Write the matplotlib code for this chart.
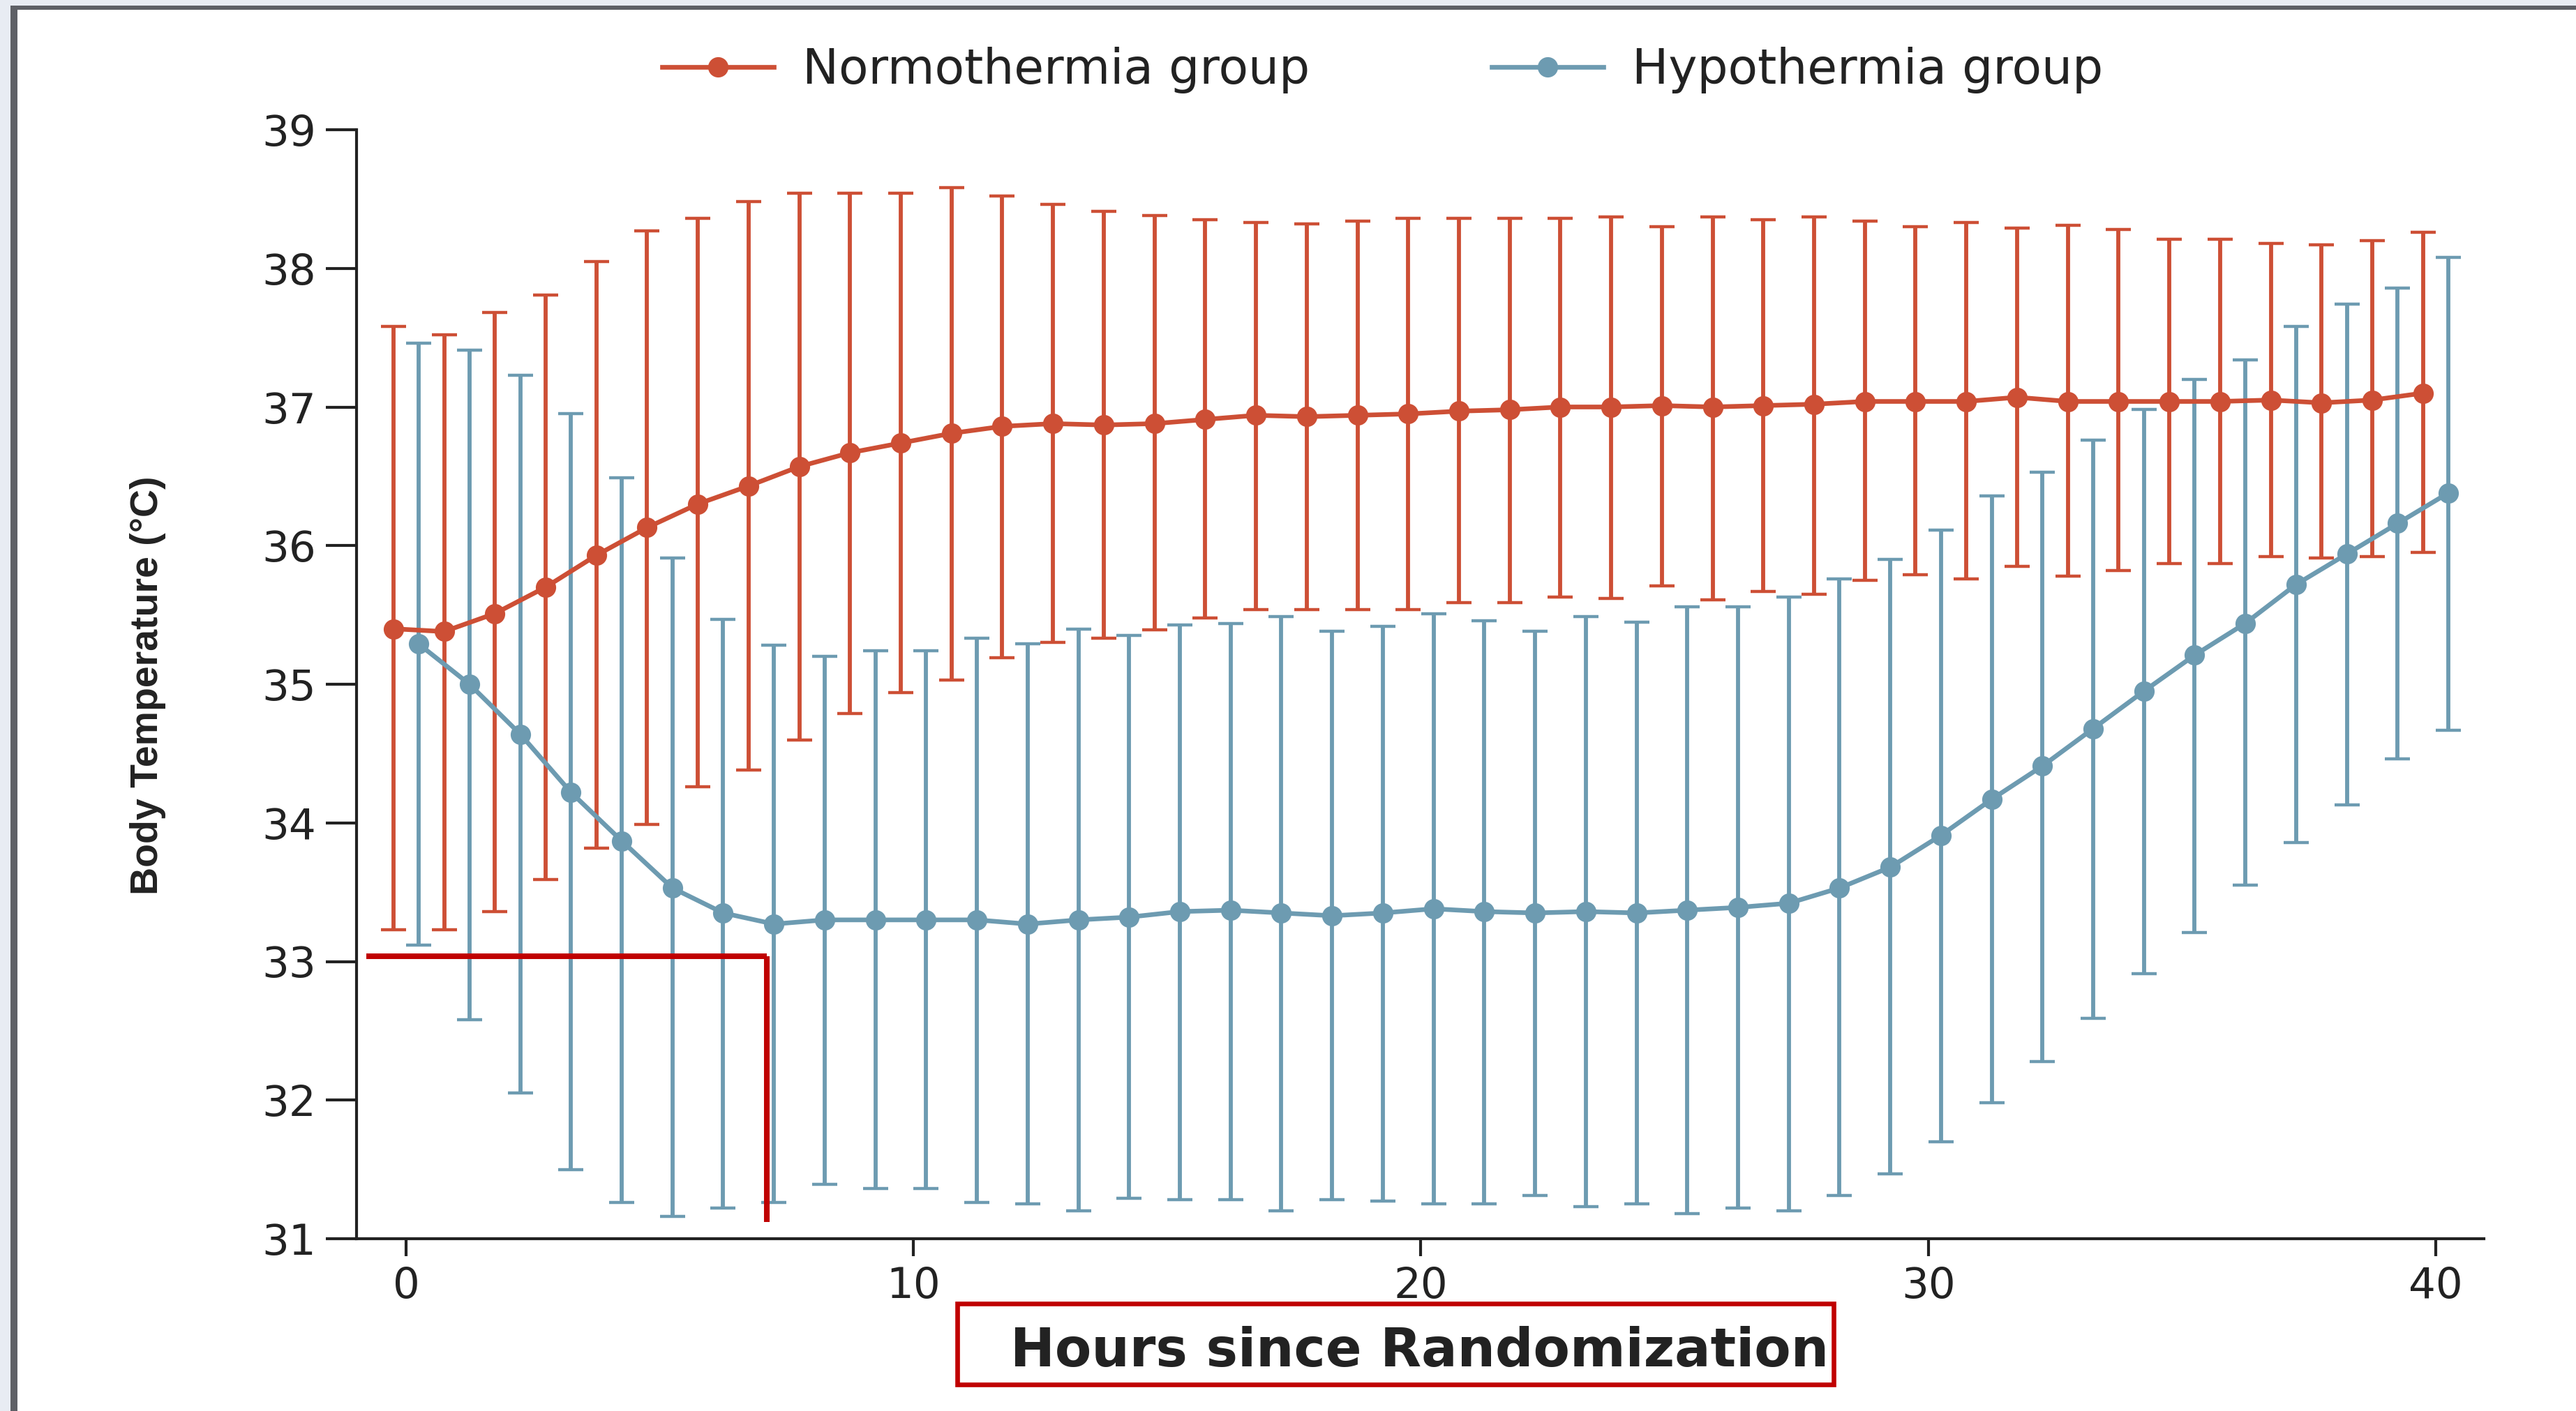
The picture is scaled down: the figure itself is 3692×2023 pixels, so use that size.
import matplotlib
matplotlib.use("Agg")
import matplotlib.pyplot as plt
from matplotlib.patches import Rectangle
import numpy as np

# ---------------- data ----------------
hours = list(range(41))

normo_mean = [35.40, 35.38, 35.51, 35.70, 35.93, 36.13, 36.30, 36.43, 36.57, 36.67,
              36.74, 36.81, 36.86, 36.88, 36.87, 36.88, 36.91, 36.94, 36.93, 36.94,
              36.95, 36.97, 36.98, 37.00, 37.00, 37.01, 37.00, 37.01, 37.02, 37.04,
              37.04, 37.04, 37.07, 37.04, 37.04, 37.04, 37.04, 37.05, 37.03, 37.05,
              37.10]
normo_upper = [37.58, 37.52, 37.68, 37.81, 38.05, 38.27, 38.36, 38.48, 38.54, 38.54,
               38.54, 38.58, 38.52, 38.46, 38.41, 38.38, 38.35, 38.33, 38.32, 38.34,
               38.36, 38.36, 38.36, 38.36, 38.37, 38.30, 38.37, 38.35, 38.37, 38.34,
               38.30, 38.33, 38.29, 38.31, 38.28, 38.21, 38.21, 38.18, 38.17, 38.20,
               38.26]
normo_lower = [33.23, 33.23, 33.36, 33.59, 33.82, 33.99, 34.26, 34.38, 34.60, 34.79,
               34.94, 35.03, 35.19, 35.30, 35.33, 35.39, 35.48, 35.54, 35.54, 35.54,
               35.54, 35.59, 35.59, 35.63, 35.62, 35.71, 35.61, 35.67, 35.65, 35.75,
               35.79, 35.76, 35.85, 35.78, 35.82, 35.87, 35.87, 35.92, 35.91, 35.92,
               35.95]

hypo_mean = [35.29, 35.00, 34.64, 34.22, 33.87, 33.53, 33.35, 33.27, 33.30, 33.30,
             33.30, 33.30, 33.27, 33.30, 33.32, 33.36, 33.37, 33.35, 33.33, 33.35,
             33.38, 33.36, 33.35, 33.36, 33.35, 33.37, 33.39, 33.42, 33.53, 33.68,
             33.91, 34.17, 34.41, 34.68, 34.95, 35.21, 35.44, 35.72, 35.94, 36.16,
             36.38]
hypo_upper = [37.46, 37.41, 37.23, 36.95, 36.49, 35.91, 35.47, 35.28, 35.20, 35.24,
              35.24, 35.33, 35.29, 35.40, 35.35, 35.43, 35.44, 35.49, 35.38, 35.42,
              35.51, 35.46, 35.38, 35.49, 35.45, 35.56, 35.56, 35.63, 35.76, 35.90,
              36.11, 36.36, 36.53, 36.76, 36.98, 37.20, 37.34, 37.58, 37.74, 37.86,
              38.08]
hypo_lower = [33.12, 32.58, 32.05, 31.50, 31.26, 31.16, 31.22, 31.26, 31.39, 31.36,
              31.36, 31.26, 31.25, 31.20, 31.29, 31.28, 31.28, 31.20, 31.28, 31.27,
              31.25, 31.25, 31.31, 31.23, 31.25, 31.18, 31.22, 31.20, 31.31, 31.47,
              31.70, 31.98, 32.28, 32.59, 32.91, 33.21, 33.55, 33.86, 34.13, 34.46,
              34.67]

labels = ["Normothermia group", "Hypothermia group"]
x_ticks = [0, 10, 20, 30, 40]
y_ticks = [31, 32, 33, 34, 35, 36, 37, 38, 39]

# annotation (red marker lines) in data units
ann_y = 33.04
ann_x0, ann_x1 = -0.78, 7.11
ann_ybot = 31.12

# ---------------- style ----------------
RED = "#CD4F35"
BLUE = "#6D9BB1"
MARK = "#C00000"
TXT = "#222222"
W, H = 3692, 2023
DPI = 200

fig = plt.figure(figsize=(W / DPI, H / DPI), dpi=DPI, facecolor="white")

# screenshot frame (light margin + dark border at left/top)
fig.add_artist(Rectangle((0, 0), 15 / W, 1, transform=fig.transFigure,
                         facecolor="#E8ECF3", edgecolor="none", zorder=0))
fig.add_artist(Rectangle((0, 1 - 8 / H), 1, 8 / H, transform=fig.transFigure,
                         facecolor="#E8ECF3", edgecolor="none", zorder=0))
fig.add_artist(Rectangle((15 / W, 0), 10 / W, 1 - 8 / H, transform=fig.transFigure,
                         facecolor="#5E6066", edgecolor="none", zorder=1))
fig.add_artist(Rectangle((15 / W, 1 - 14 / H), 1, 6 / H, transform=fig.transFigure,
                         facecolor="#5E6066", edgecolor="none", zorder=1))

ax = fig.add_axes([511 / W, 1 - 1776 / H, (3560 - 511) / W, (1776 - 186) / H])
ax.set_facecolor("none")

hx = np.array(hours, dtype=float)
xn = hx - 0.25
xh = hx + 0.25

nm, nu, nl = map(np.array, (normo_mean, normo_upper, normo_lower))
hm, hu, hl = map(np.array, (hypo_mean, hypo_upper, hypo_lower))

ax.errorbar(xn, nm, yerr=[nm - nl, nu - nm], fmt="none", ecolor=RED,
            elinewidth=2.1, capsize=6.5, capthick=1.6, zorder=2, clip_on=False)
ax.errorbar(xh, hm, yerr=[hm - hl, hu - hm], fmt="none", ecolor=BLUE,
            elinewidth=2.1, capsize=6.5, capthick=1.6, zorder=2, clip_on=False)
l1, = ax.plot(xn, nm, "-o", color=RED, lw=2.4, ms=9.5, zorder=3, clip_on=False,
              label=labels[0])
l2, = ax.plot(xh, hm, "-o", color=BLUE, lw=2.4, ms=9.5, zorder=3, clip_on=False,
              label=labels[1])

# annotation lines
ax.plot([ann_x0, ann_x1], [ann_y, ann_y], color=MARK, lw=2.9, zorder=4,
        clip_on=False, solid_capstyle="butt")
ax.plot([ann_x1, ann_x1], [ann_y, ann_ybot], color=MARK, lw=2.9, zorder=4,
        clip_on=False, solid_capstyle="butt")

ax.set_xlim(-0.976, 40.95)
ax.set_ylim(31, 39)
ax.set_xticks(x_ticks)
ax.set_yticks(y_ticks)
ax.set_xticklabels([str(v) for v in x_ticks])
ax.set_yticklabels([str(v) for v in y_ticks])

for s in ("top", "right"):
    ax.spines[s].set_visible(False)
for s in ("left", "bottom"):
    ax.spines[s].set_linewidth(1.5)
    ax.spines[s].set_color(TXT)

ax.tick_params(axis="y", direction="out", length=16, width=1.5, color=TXT,
               pad=5, labelsize=22, labelcolor=TXT)
ax.tick_params(axis="x", direction="out", length=9, width=1.5, color=TXT,
               pad=5, labelsize=22, labelcolor=TXT)
for t in ax.get_xticklabels() + ax.get_yticklabels():
    t.set_fontfamily("DejaVu Sans")

# legend
fig.legend(handles=[l1, l2], labels=labels, loc="center left",
           bbox_to_anchor=(949 / W, 1 - 101 / H), ncol=2, frameon=False,
           handlelength=2.3, handletextpad=0.6, columnspacing=3.75,
           borderpad=0, borderaxespad=0, labelcolor=TXT,
           prop={"family": "DejaVu Sans", "size": 25})

# y label (narrower bold face)
fig.text(212 / W, 1 - 983 / H, "Body Temperature (°C)", rotation=90,
         ha="center", va="center", fontsize=20, fontweight="bold",
         color=TXT, family=["Liberation Sans", "DejaVu Sans"])

# x label with red box
fig.text(2035 / W, 1 - 1959 / H, "Hours since Randomization", ha="center",
         va="baseline", fontsize=27.5, fontweight="bold", color=TXT,
         family="DejaVu Sans")
fig.add_artist(Rectangle((1372 / W, 1 - 1985 / H), (2628 - 1372) / W,
                         (1985 - 1869) / H, transform=fig.transFigure,
                         facecolor="none", edgecolor=MARK, lw=2.4, zorder=5))

fig.savefig("out.png", dpi=DPI, facecolor="white")
